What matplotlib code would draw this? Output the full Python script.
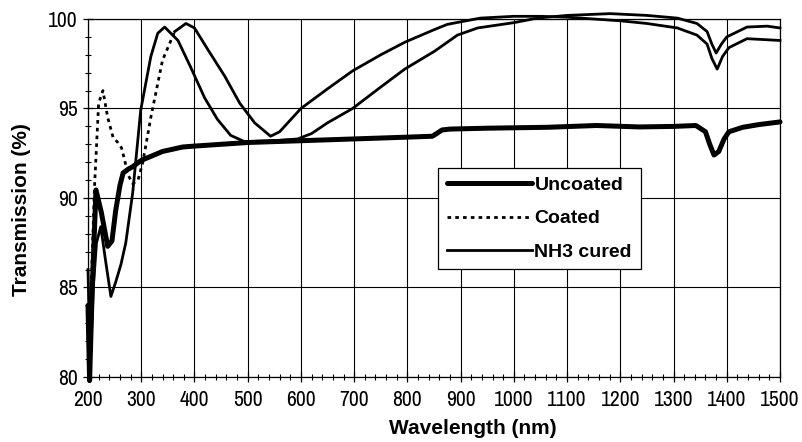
import matplotlib
matplotlib.use("Agg")
import matplotlib.pyplot as plt
from matplotlib.ticker import MultipleLocator
from matplotlib import font_manager


# Uncoated substrate
uncoated_nm = [200, 203, 208, 215, 225, 237, 245, 252, 260, 266, 275, 284, 300, 316, 340, 378,
               400, 450, 500, 600, 700, 800, 847, 855, 865, 880, 950, 1063, 1155, 1236, 1300,
               1342, 1360, 1368, 1376, 1385, 1395, 1404, 1430, 1460, 1500]
uncoated_t = [84.0, 79.8, 85.0, 90.45, 89.2, 87.3, 87.6, 89.3, 90.7, 91.4, 91.6, 91.75, 92.1, 92.3,
              92.6, 92.85, 92.9, 93.0, 93.1, 93.2, 93.3, 93.4, 93.45, 93.6, 93.8, 93.85, 93.9,
              93.95, 94.05, 93.97, 94.0, 94.05, 93.7, 93.0, 92.4, 92.6, 93.3, 93.7, 93.95, 94.1, 94.25]

# Coated
coated_nm = [200, 205, 212, 220, 228, 237, 247, 256, 263, 269, 275, 284, 294, 303, 318, 340, 363,
             384, 400, 425, 457, 485, 513, 543, 560, 600, 650, 697, 750, 795, 850, 875, 937, 1000,
             1050, 1100, 1150, 1200, 1250, 1307, 1344, 1363, 1372, 1382, 1392, 1404, 1438, 1470, 1500]
coated_t = [82.0, 84.0, 90.5, 95.3, 96.0, 94.5, 93.4, 93.1, 92.8, 92.1, 91.3, 90.8, 91.0, 92.0, 94.5,
            97.7, 99.3, 99.75, 99.5, 98.3, 96.8, 95.3, 94.2, 93.45, 93.7, 95.0, 96.1, 97.1, 98.0,
            98.7, 99.4, 99.7, 100.05, 100.15, 100.15, 100.1, 100.0, 99.9, 99.75, 99.5, 99.1, 98.6,
            97.8, 97.2, 97.9, 98.4, 98.9, 98.85, 98.8]

# NH3 cured
nh3_nm = [200, 204, 210, 216, 224, 233, 243, 252, 262, 271, 284, 299, 318, 331, 344, 369, 393, 419,
          443, 468, 494, 550, 594, 620, 650, 697, 750, 795, 851, 894, 932, 1001, 1044, 1100, 1181,
          1250, 1307, 1344, 1363, 1372, 1380, 1390, 1400, 1438, 1476, 1500]
nh3_t = [86.0, 80.5, 85.0, 87.5, 88.4, 86.5, 84.5, 85.3, 86.3, 87.5, 90.3, 94.9, 97.9, 99.2, 99.55,
         98.8, 97.3, 95.6, 94.4, 93.5, 93.15, 93.2, 93.3, 93.6, 94.2, 95.0, 96.2, 97.2, 98.2, 99.1,
         99.5, 99.8, 100.05, 100.2, 100.3, 100.2, 100.05, 99.75, 99.3, 98.6, 98.1, 98.6, 99.0,
         99.55, 99.6, 99.5]

x_ticks = list(range(200, 1501, 100))
y_ticks = [80, 85, 90, 95, 100]

LABEL_FONT = ["Liberation Sans", "DejaVu Sans"]
narrow = sorted({f.name for f in font_manager.fontManager.ttflist
                 if "Narrow" in f.name or "Condensed" in f.name})
TICK_FONT = narrow[:1] + LABEL_FONT

fig = plt.figure(figsize=(8.02, 4.42), dpi=100)
ax = fig.add_axes([88 / 802, 1 - 377 / 442, 692 / 802, 358 / 442])

ax.set_xlim(200, 1500)
ax.set_ylim(80, 100)
ax.set_xticks(x_ticks)
ax.set_yticks(y_ticks)
ax.xaxis.set_minor_locator(MultipleLocator(20))
ax.yaxis.set_minor_locator(MultipleLocator(1))
ax.tick_params(which="major", direction="inout", length=7, width=0.9, color="black")
ax.tick_params(which="minor", direction="inout", length=5, width=0.8, color="black")
ax.tick_params(axis="x", pad=6)
ax.tick_params(axis="y", pad=4)
ax.grid(True, which="major", color="black", linewidth=0.8)
ax.set_axisbelow(True)
for s in ax.spines.values():
    s.set_linewidth(0.9)

for lab in ax.get_xticklabels() + ax.get_yticklabels():
    lab.set_family(TICK_FONT)
    lab.set_fontsize(15.5)

ax.plot(uncoated_nm, uncoated_t, color="black", linewidth=3.6, solid_capstyle="round",
        clip_on=False, label="Uncoated", zorder=3)

# coated: dotted where the curve is steep, rendered solid afterwards (as in the source)
split = coated_nm.index(363)
ax.plot(coated_nm[:split + 1], coated_t[:split + 1], color="black", linewidth=2.0,
        linestyle=(0, (1.3, 1.5)), clip_on=False, label="Coated", zorder=3)
ax.plot(coated_nm[split:], coated_t[split:], color="black", linewidth=2.0,
        clip_on=False, zorder=3)

ax.plot(nh3_nm, nh3_t, color="black", linewidth=2.0, clip_on=False, label="NH3 cured", zorder=3)

leg = ax.legend(loc="upper left", bbox_to_anchor=(0.506, 0.584), frameon=True, fancybox=False,
                framealpha=1, edgecolor="black", handlelength=4.4, handletextpad=0.1,
                labelspacing=0.8, borderpad=0.45, borderaxespad=0,
                prop={"family": LABEL_FONT, "weight": "bold", "size": 14})
leg.get_frame().set_linewidth(0.9)
leg.set_zorder(5)

fig.text(473 / 802, 1 - 428 / 442, "Wavelength (nm)", ha="center", va="center",
         family=LABEL_FONT, weight="bold", fontsize=15)
fig.text(22 / 802, 1 - 210 / 442, "Transmission (%)", ha="center", va="center", rotation=90,
         family=LABEL_FONT, weight="bold", fontsize=15)

fig.savefig("out.png", dpi=100)
